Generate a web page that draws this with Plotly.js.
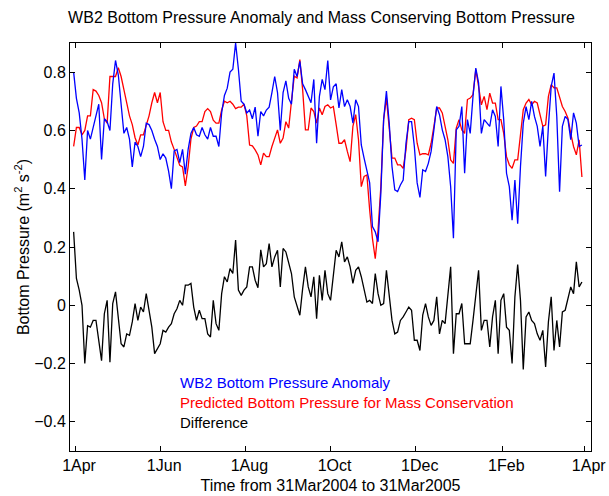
<!DOCTYPE html>
<html>
<head>
<meta charset="utf-8">
<script src="https://cdn.plot.ly/plotly-3.0.1.min.js"></script>
<style>
  html, body { margin: 0; padding: 0; background: #fff; }
  #chart { width: 609px; height: 496px; }
</style>
</head>
<body>
<div id="chart"></div>
<script>
// Two-day samples starting 31 Mar 2004 (m^2 s^-2)
const startDate = '2004-03-31';
const stepDays = 2;

const wb2Anomaly = [
  0.80, 0.71, 0.66, 0.57, 0.43, 0.60, 0.57, 0.61, 0.66, 0.69,
  0.50, 0.64, 0.63, 0.60, 0.76, 0.84, 0.79, 0.69, 0.59, 0.61,
  0.57, 0.475, 0.56, 0.545, 0.51, 0.545, 0.625, 0.62, 0.60, 0.57,
  0.545, 0.50, 0.52, 0.505, 0.46, 0.40, 0.53, 0.535, 0.49, 0.535,
  0.45, 0.535, 0.59, 0.61, 0.585, 0.58, 0.61, 0.585, 0.57, 0.61,
  0.58, 0.58, 0.545, 0.66, 0.72, 0.745, 0.80, 0.81, 0.90, 0.81,
  0.70, 0.69, 0.66, 0.67, 0.64, 0.68, 0.58, 0.665, 0.65, 0.67,
  0.68, 0.73, 0.785, 0.73, 0.60, 0.73, 0.77, 0.71, 0.69, 0.81,
  0.785, 0.837, 0.76, 0.74, 0.717, 0.695, 0.775, 0.556, 0.717, 0.775,
  0.74, 0.84, 0.705, 0.75, 0.76, 0.677, 0.74, 0.682, 0.705, 0.682,
  0.625, 0.705, 0.682, 0.55, 0.505, 0.465, 0.42, 0.27, 0.252, 0.218,
  0.384, 0.637, 0.735, 0.625, 0.476, 0.396, 0.39, 0.413, 0.43, 0.556,
  0.63, 0.63, 0.545, 0.42, 0.37, 0.465, 0.459, 0.487, 0.528, 0.602,
  0.682, 0.654, 0.602, 0.568, 0.51, 0.407, 0.23, 0.602, 0.614, 0.682,
  0.453, 0.637, 0.59, 0.717, 0.814, 0.763, 0.59, 0.637, 0.625, 0.614,
  0.671, 0.648, 0.545, 0.751, 0.637, 0.453, 0.407, 0.292, 0.43, 0.28,
  0.476, 0.625, 0.682, 0.637, 0.70, 0.648, 0.614, 0.545, 0.614, 0.442,
  0.614, 0.751, 0.797, 0.648, 0.39, 0.614, 0.648, 0.637, 0.568, 0.66,
  0.625, 0.545, 0.55
];

const massConserving = [
  0.545, 0.61, 0.61, 0.585, 0.60, 0.65, 0.65, 0.74, 0.735, 0.72,
  0.695, 0.64, 0.625, 0.785, 0.785, 0.785, 0.815, 0.785, 0.74, 0.695,
  0.65, 0.62, 0.575, 0.55, 0.585, 0.585, 0.62, 0.65, 0.695, 0.73,
  0.695, 0.73, 0.63, 0.60, 0.60, 0.56, 0.535, 0.51, 0.48, 0.475,
  0.41, 0.475, 0.57, 0.61, 0.615, 0.63, 0.63, 0.665, 0.675, 0.665,
  0.635, 0.625, 0.625, 0.67, 0.70, 0.695, 0.70, 0.69, 0.675, 0.68,
  0.68, 0.69, 0.65, 0.55, 0.547, 0.533, 0.516, 0.482, 0.522, 0.51,
  0.51, 0.545, 0.574, 0.602, 0.556, 0.574, 0.63, 0.608, 0.70, 0.786,
  0.78, 0.843, 0.74, 0.602, 0.602, 0.677, 0.665, 0.625, 0.677, 0.654,
  0.682, 0.688, 0.677, 0.682, 0.62, 0.556, 0.556, 0.568, 0.528, 0.493,
  0.614, 0.654, 0.568, 0.407, 0.442, 0.447, 0.327, 0.229, 0.16, 0.258,
  0.407, 0.637, 0.711, 0.602, 0.505, 0.505, 0.482, 0.482, 0.47, 0.533,
  0.637, 0.642, 0.637, 0.556, 0.516, 0.52, 0.52, 0.516, 0.556, 0.614,
  0.677, 0.677, 0.66, 0.614, 0.568, 0.499, 0.487, 0.608, 0.637, 0.602,
  0.59, 0.706, 0.711, 0.723, 0.809, 0.751, 0.688, 0.717, 0.671, 0.728,
  0.694, 0.694, 0.637, 0.637, 0.59, 0.51, 0.482, 0.47, 0.499, 0.499,
  0.579, 0.671, 0.694, 0.706, 0.688, 0.70, 0.694, 0.654, 0.614, 0.619,
  0.717, 0.757, 0.746, 0.746, 0.711, 0.682, 0.665, 0.642, 0.59, 0.545,
  0.516, 0.568, 0.44
];

const difference = [
  0.252, 0.092, 0.052, 0.0, -0.2, -0.07, -0.075, -0.052, -0.052, -0.12,
  -0.19, -0.029, 0.017, -0.195, 0.006, 0.046, -0.052, -0.132, -0.143, -0.098,
  -0.103, -0.057, 0.006, -0.052, -0.006, -0.023, 0.04, -0.017, -0.075, -0.166,
  -0.149, -0.132, -0.086, -0.092, -0.075, -0.063, -0.029, -0.012, 0.017, 0.0,
  0.069, 0.069, 0.075, -0.006, -0.052, -0.017, -0.046, -0.046, -0.098, -0.109,
  0.017, -0.063, -0.086, 0.04, 0.098, 0.08, 0.126, 0.109, 0.224, 0.052,
  0.034, 0.052, 0.063, 0.132, 0.132, 0.086, 0.06, 0.19, 0.132, 0.143,
  0.212, 0.132, 0.166, 0.189, 0.063, 0.195, 0.183, 0.143, 0.109, 0.029,
  -0.006, -0.034, 0.057, 0.132, 0.063, 0.029, 0.098, -0.046, 0.103, 0.017,
  0.12, 0.04, 0.017, 0.109, 0.189, 0.166, 0.218, 0.149, 0.166, 0.132,
  0.075, 0.12, 0.132, 0.098, 0.057, 0.011, 0.017, 0.006, 0.109, 0.04,
  0.0, 0.006, 0.12, 0.04, -0.052, -0.098, -0.092, -0.052, -0.04, -0.023,
  -0.006, -0.017, -0.12, -0.12, -0.155, -0.034, 0.006, -0.04, -0.069, -0.052,
  0.029, -0.098, -0.052, -0.063, 0.046, 0.132, -0.166, -0.029, -0.029, 0.006,
  -0.132, -0.132, -0.132, -0.052, 0.029, 0.12, -0.086, -0.052, -0.052, -0.143,
  -0.04, 0.017, -0.166, 0.017, 0.04, -0.075, -0.086, -0.2, 0.029, 0.14,
  0.017, -0.22, -0.04, -0.023, -0.052, -0.063, -0.098, -0.12, -0.086, -0.212,
  -0.057, 0.029, -0.155, -0.052, -0.143, -0.023, -0.017, 0.029, 0.063, 0.04,
  0.149, 0.063, 0.08
];

const tickDates = ['2004-04-01', '2004-06-01', '2004-08-01', '2004-10-01',
                   '2004-12-01', '2005-02-01', '2005-04-01'];
const tickLabels = ['1Apr', '1Jun', '1Aug', '1Oct', '1Dec', '1Feb', '1Apr'];
const yTicks = [-0.4, -0.2, 0, 0.2, 0.4, 0.6, 0.8];

const seriesNames = ['WB2 Bottom Pressure Anomaly',
                     'Predicted Bottom Pressure for Mass Conservation',
                     'Difference'];
const seriesColors = ['#0000ff', '#ff0000', '#000000'];

// sample dates, one every stepDays
function sampleDates(n) {
  const t0 = Date.parse(startDate + 'T00:00:00Z');
  const out = [];
  for (let i = 0; i < n; i++) {
    out.push(new Date(t0 + i * stepDays * 86400000).toISOString().slice(0, 10));
  }
  return out;
}
const dates = sampleDates(wb2Anomaly.length);

const FONT = 'Liberation Sans, Arial, Helvetica, sans-serif';

// red drawn first so the blue anomaly sits on top of it
const traces = [massConserving, wb2Anomaly, difference].map((vals, i) => {
  const idx = [1, 0, 2][i];
  return {
    x: dates, y: vals, type: 'scatter', mode: 'lines',
    name: seriesNames[idx],
    line: { color: seriesColors[idx], width: 1.3 },
    hoverinfo: 'skip'
  };
});

const axisCommon = {
  showline: true, linecolor: '#000', linewidth: 1, mirror: 'allticks',
  ticks: 'inside', ticklen: 5, tickwidth: 1, tickcolor: '#000',
  showgrid: false, zeroline: false,
  tickfont: { family: FONT, size: 16, color: '#000' }
};

const layout = {
  width: 609, height: 496,
  margin: { l: 70, r: 18, t: 43, b: 45, pad: 0 },
  paper_bgcolor: '#fff', plot_bgcolor: '#fff',
  showlegend: false,
  font: { family: FONT, size: 16, color: '#000' },
  title: {
    text: 'WB2 Bottom Pressure Anomaly and Mass Conserving Bottom Pressure',
    font: { family: FONT, size: 16, color: '#000' },
    xref: 'container', x: 0.528, xanchor: 'center',
    yref: 'container', y: 0.964, yanchor: 'middle'
  },
  xaxis: Object.assign({}, axisCommon, {
    type: 'date',
    range: ['2004-03-28 09:36', '2005-04-05 12:00'],
    tickmode: 'array', tickvals: tickDates, ticktext: tickLabels,
    ticklabelshift: 4,
    title: { text: 'Time from 31Mar2004 to 31Mar2005',
             font: { family: FONT, size: 16, color: '#000' }, standoff: 6 }
  }),
  yaxis: Object.assign({}, axisCommon, {
    range: [-0.5, 0.9],
    tickmode: 'array', tickvals: yTicks,
    title: { text: 'Bottom Pressure (m<sup>2</sup> s<sup>-2</sup>)',
             font: { family: FONT, size: 16, color: '#000' }, standoff: 0 }
  }),
  annotations: seriesNames.map((name, i) => ({
    text: name, xref: 'paper', yref: 'paper',
    x: 0.207, y: [0.169, 0.118, 0.069][i],
    xanchor: 'left', yanchor: 'middle', showarrow: false,
    font: { family: FONT, size: 15, color: seriesColors[i] }
  }))
};

Plotly.newPlot('chart', traces, layout, { staticPlot: true, displayModeBar: false });
</script>
</body>
</html>
